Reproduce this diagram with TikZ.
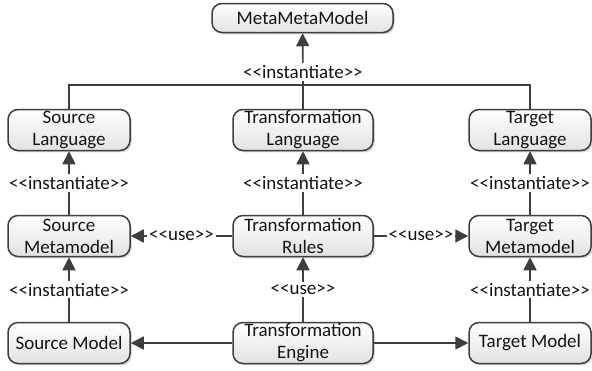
\documentclass[tikz,border=0pt]{standalone}
\usepackage{fontspec}
\setmainfont{Carlito}
\usetikzlibrary{arrows.meta, positioning, shadows}
\definecolor{mdline}{RGB}{62,62,62}
\definecolor{mdink}{RGB}{20,20,20}
\definecolor{mdfillbot}{RGB}{226,226,226}
\tikzset{
  modelbox/.style={
    draw=mdline,
    rounded corners=5pt,
    line width=0.75pt,
    top color=white,
    bottom color=mdfillbot,
    align=center,
    minimum height=20.5pt,
    minimum width=61pt,
    inner sep=0.5pt,
    font=\fontsize{9.5}{11}\selectfont,
    text=mdink,
    drop shadow={shadow xshift=0.9pt, shadow yshift=-0.9pt, opacity=0.3}
  },
  midbox/.style={
    modelbox,
    minimum width=70pt
  },
  stereo/.style={
    fill=white,
    inner sep=1pt,
    font=\fontsize{9.5}{11}\selectfont,
    text=mdink
  },
  arrow/.style={-{Triangle[length=6.5pt, width=6.5pt]}, line width=0.8pt, draw=mdline},
  link/.style={line width=0.8pt, draw=mdline}
}

\begin{document}
\begin{tikzpicture}[x=0.5pt, y=-0.5pt]
  \useasboundingbox (0,0) rectangle (592,370);
  \node[modelbox, minimum width=90.5pt, minimum height=14.5pt] (mmm) at (302.5,18) {MetaMetaModel};

  \node[modelbox] (srclang) at (69,130) {Source\\Language};
  \node[midbox] (trlang) at (303,130) {Transformation\\Language};
  \node[modelbox] (tgtlang) at (530,130) {Target\\Language};

  \node[modelbox] (srcmm) at (69,236) {Source\\Metamodel};
  \node[midbox] (trrules) at (303,236) {Transformation\\Rules};
  \node[modelbox] (tgtmm) at (530,236) {Target\\Metamodel};

  \node[modelbox] (srcmodel) at (69,343) {Source Model};
  \node[midbox] (trengine) at (303,343) {Transformation\\Engine};
  \node[modelbox] (tgtmodel) at (530,343) {Target Model};

  % languages instantiate the metametamodel
  \coordinate (hub) at (303,85);
  \draw[link] (srclang.north) |- (hub) -| (tgtlang.north);
  \draw[link] (trlang.north) -- (hub);
  \draw[arrow] (hub) -- node[stereo, pos=0.25] {<{}<instantiate>{}>} (mmm);

  % metamodels and rules instantiate languages
  \draw[arrow] (srcmm) -- node[stereo] {<{}<instantiate>{}>} (srclang);
  \draw[arrow] (trrules) -- node[stereo] {<{}<instantiate>{}>} (trlang);
  \draw[arrow] (tgtmm) -- node[stereo] {<{}<instantiate>{}>} (tgtlang);

  \draw[arrow] (trrules) -- node[stereo] {<{}<use>{}>} (srcmm);
  \draw[arrow] (trrules) -- node[stereo] {<{}<use>{}>} (tgtmm);

  % models
  \draw[arrow] (srcmodel) -- node[stereo] {<{}<instantiate>{}>} (srcmm);
  \draw[arrow] (trengine) -- node[stereo] {<{}<use>{}>} (trrules);
  \draw[arrow] (tgtmodel) -- node[stereo] {<{}<instantiate>{}>} (tgtmm);

  \draw[arrow] (trengine) -- (srcmodel);
  \draw[arrow] (trengine) -- (tgtmodel);
\end{tikzpicture}
\end{document}
